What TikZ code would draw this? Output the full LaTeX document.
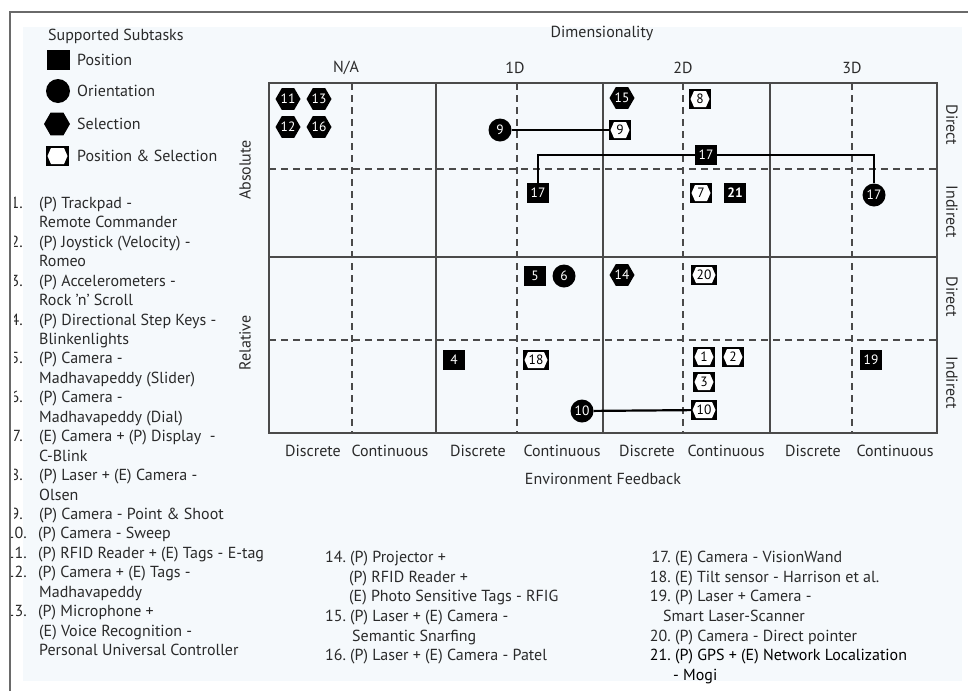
\documentclass[tikz,border=0pt]{standalone}
\usepackage{fontspec}
\setmainfont{PT Sans}
\usetikzlibrary{shapes.geometric}
\definecolor{bg}{HTML}{F5F9FC}
\definecolor{txt}{HTML}{2A2A2A}
\definecolor{gridc}{HTML}{4A4A4A}
\definecolor{framec}{HTML}{6A6A6A}
\tikzset{
 lbl/.style={font=\fontsize{16}{19}\selectfont, text=txt, inner sep=0pt},
 item/.style={lbl, anchor=base west},
 num/.style={lbl, anchor=base east},
 mk/.style={fill=black, text=white, font=\fontsize{13.5}{15}\selectfont, inner sep=0pt},
 sq/.style={mk, rectangle, minimum width=22pt, minimum height=20pt},
 ci/.style={mk, circle, minimum size=23pt},
 hx/.style={mk, regular polygon, regular polygon sides=6, minimum size=25pt},
 ps/.style={mk, rectangle, minimum width=22pt, minimum height=20pt, text=black,
   path picture={\fill[white] ([xshift=1.5pt]path picture bounding box.west)
     -- ([xshift=5pt,yshift=-2pt]path picture bounding box.north west)
     -- ([xshift=-5pt,yshift=-2pt]path picture bounding box.north east)
     -- ([xshift=-1.5pt]path picture bounding box.east)
     -- ([xshift=-5pt,yshift=2pt]path picture bounding box.south east)
     -- ([xshift=5pt,yshift=2pt]path picture bounding box.south west) -- cycle;}},
 psw/.style={ps, minimum width=26pt},
 conn/.style={line width=2.2pt, black},
 gsolid/.style={gridc, line width=1.3pt},
 gdash/.style={gridc, line width=1.2pt, dash pattern=on 7pt off 5pt},
}
\begin{document}
\begin{tikzpicture}[x=1pt, y=-1pt]
\useasboundingbox (0,0) rectangle (968,691);
% frame and background
\fill[bg] (23,27) rectangle (962,681);
\draw[framec, line width=2pt] (10,691) -- (10,12) -- (968,12);

% legend
\node[lbl, anchor=base west] (legtitle) at (48,40.5) {Supported Subtasks};
\node[sq, minimum width=23pt] (legsq) at (58.5,60) {};
\node[item] (legpos) at (77,65) {Position};
\node[ci, minimum size=24pt] (legci) at (58,91) {};
\node[item] (legori) at (77,96) {Orientation};
\node[hx, minimum size=26pt] (leghx) at (57,124) {};
\node[item] (legsel) at (77,129) {Selection};
\node[ps, minimum width=23pt] (legps) at (57.5,156) {};
\node[item] (legpss) at (77,161) {Position \& Selection};

% grid
\draw[gdash] (352,83) -- (352,433);
\draw[gdash] (517,83) -- (517,433);
\draw[gdash] (683,83) -- (683,433);
\draw[gdash] (852,83) -- (852,433);
\draw[gdash] (269,169) -- (937,169);
\draw[gdash] (269,340) -- (937,340);
\draw[gsolid] (269,83) rectangle (937,433);
\draw[gsolid] (436,83) -- (436,433);
\draw[gsolid] (603,83) -- (603,433);
\draw[gsolid] (770,83) -- (770,433);
\draw[gsolid] (269,257) -- (937,257);

% axis labels
\node[lbl] (dimt) at (602,33) {Dimensionality};
\node[lbl] (hna) at (346,68) {N/A};
\node[lbl] (h1d) at (515,68) {1D};
\node[lbl] (h2d) at (683,68) {2D};
\node[lbl] (h3d) at (852,68) {3D};
\node[lbl] (b1) at (313,451) {Discrete};
\node[lbl] (b2) at (390,451) {Continuous};
\node[lbl] (b3) at (478,451) {Discrete};
\node[lbl] (b4) at (562,451) {Continuous};
\node[lbl] (b5) at (647,451) {Discrete};
\node[lbl] (b6) at (726,451) {Continuous};
\node[lbl] (b7) at (813,451) {Discrete};
\node[lbl] (b8) at (895,451) {Continuous};
\node[lbl] (envt) at (603,479) {Environment Feedback};
\node[lbl, rotate=90] (abs) at (245,170) {Absolute};
\node[lbl, rotate=90] (rel) at (245,343) {Relative};
\node[lbl, rotate=-90] (r1) at (952,125) {Direct};
\node[lbl, rotate=-90] (r2) at (952,212) {Indirect};
\node[lbl, rotate=-90] (r3) at (952,297) {Direct};
\node[lbl, rotate=-90] (r4) at (952,383) {Indirect};

% markers
\node[hx] (h11) at (288,99) {11};
\node[hx] (h13) at (319,99) {13};
\node[hx] (h12) at (288,127) {12};
\node[hx] (h16) at (319,127) {16};
\node[ci] (c9) at (500,130) {9};
\node[ps] (p9) at (620,130) {9};
\node[hx] (h15) at (622,98) {15};
\node[ps] (p8) at (700,99) {8};
\node[sq] (s17a) at (538,193) {17};
\node[sq] (s17b) at (706,155) {17};
\node[ci] (c17) at (874,195) {17};
\node[ps] (p7) at (701,193) {7};
\node[sq] (s21) at (735,193) {\textbf{21}};
\node[sq] (s5) at (535,276) {5};
\node[ci] (c6) at (564,276) {6};
\node[hx] (h14) at (622,275) {14};
\node[psw] (p20) at (704,275) {20};
\node[sq] (s4) at (454,360) {4};
\node[psw] (p18) at (536,360) {18};
\node[ps] (p1) at (704,357) {1};
\node[ps] (p2) at (733,357) {2};
\node[ps] (p3) at (704,382) {3};
\node[psw] (p10) at (704,410) {10};
\node[ci] (c10) at (582,411) {10};
\node[sq] (s19) at (871,360) {19};

% connectors
\draw[conn] (c9) -- (p9);
\draw[conn] (s17a) |- (s17b);
\draw[conn] (s17b) -| (c17);
\draw[conn] (c10) -- (p10);

% left list: numbers (clipped at the left edge)
\begin{scope}
\clip (14,0) rectangle (40,691);
\node[num] (n1) at (23,208.5) {1.};
\node[num] (n2) at (23,247.4) {2.};
\node[num] (n3) at (23,286.2) {3.};
\node[num] (n4) at (23,325.1) {4.};
\node[num] (n5) at (23,363.9) {5.};
\node[num] (n6) at (23,402.8) {6.};
\node[num] (n7) at (23,441.7) {7.};
\node[num] (n8) at (23,480.5) {8.};
\node[num] (n9) at (23,519.4) {9.};
\end{scope}
\begin{scope}
\clip (11,0) rectangle (40,691);
\node[num] (n10) at (27,538.8) {10.};
\node[num] (n11) at (27,558.2) {11.};
\node[num] (n12) at (27,577.7) {12.};
\node[num] (n13) at (27,616.5) {13.};
\end{scope}
\node[item] (t1) at (39,208.5) {(P) Trackpad -};
\node[item] (t1b) at (39,227.9) {Remote Commander};
\node[item] (t2) at (39,247.4) {(P) Joystick (Velocity) -};
\node[item] (t2b) at (39,266.8) {Romeo};
\node[item] (t3) at (39,286.2) {(P) Accelerometers -};
\node[item] (t3b) at (39,305.7) {Rock ’n’ Scroll};
\node[item] (t4) at (39,325.1) {(P) Directional Step Keys -};
\node[item] (t4b) at (39,344.5) {Blinkenlights};
\node[item] (t5) at (39,363.9) {(P) Camera -};
\node[item] (t5b) at (39,383.4) {Madhavapeddy (Slider)};
\node[item] (t6) at (39,402.8) {(P) Camera -};
\node[item] (t6b) at (39,422.2) {Madhavapeddy (Dial)};
\node[item] (t7) at (39,441.7) {(E) Camera + (P) Display~ -};
\node[item] (t7b) at (39,461.1) {C-Blink};
\node[item] (t8) at (39,480.5) {(P) Laser + (E) Camera -};
\node[item] (t8b) at (39,500) {Olsen};
\node[item] (t9) at (39,519.4) {(P) Camera - Point \& Shoot};
\node[item] (t10) at (38,538.8) {(P) Camera - Sweep};
\node[item] (t11) at (38,558.2) {(P) RFID Reader + (E) Tags - E-tag};
\node[item] (t12) at (38,577.7) {(P) Camera + (E) Tags -};
\node[item] (t12b) at (39,597.1) {Madhavapeddy};
\node[item] (t13) at (38,616.5) {(P) Microphone +};
\node[item] (t13b) at (39,636) {(E) Voice Recognition -};
\node[item] (t13c) at (39,655.4) {Personal Universal Controller};

% middle list
\node[item] (n14) at (325,562.5) {14.};
\node[item] (t14) at (350,562.5) {(P) Projector +};
\node[item] (t14b) at (349,582.5) {(P) RFID Reader +};
\node[item] (t14c) at (349,601.5) {(E) Photo Sensitive Tags - RFIG};
\node[item] (n15) at (325,621.5) {15.};
\node[item] (t15) at (350,621.5) {(P) Laser + (E) Camera -};
\node[item] (t15b) at (352,641.5) {Semantic Snarfing};
\node[item] (n16) at (325,660.5) {16.};
\node[item] (t16) at (350,660.5) {(P) Laser + (E) Camera - Patel};

% right list
\node[num] (n17) at (671,562.5) {17.};
\node[item] (t17) at (675,562.5) {(E) Camera - VisionWand};
\node[num] (n18) at (671,582.5) {18.};
\node[item] (t18) at (675,582.5) {(E) Tilt sensor - Harrison et al.};
\node[num] (n19) at (671,601.5) {19.};
\node[item] (t19) at (675,601.5) {(P) Laser + Camera -};
\node[item] (t19b) at (663,621.5) {Smart Laser-Scanner};
\node[num] (n20) at (671,641.5) {20.};
\node[item] (t20) at (675,641.5) {(P) Camera - Direct pointer};
\node[num, text=black] (n21) at (671,660.5) {21.};
\node[item, text=black] (t21) at (675,660.5) {(P) GPS + (E) Network Localization};
\node[item, text=black] (t21b) at (673,680.5) {- Mogi};
\end{tikzpicture}
\end{document}
